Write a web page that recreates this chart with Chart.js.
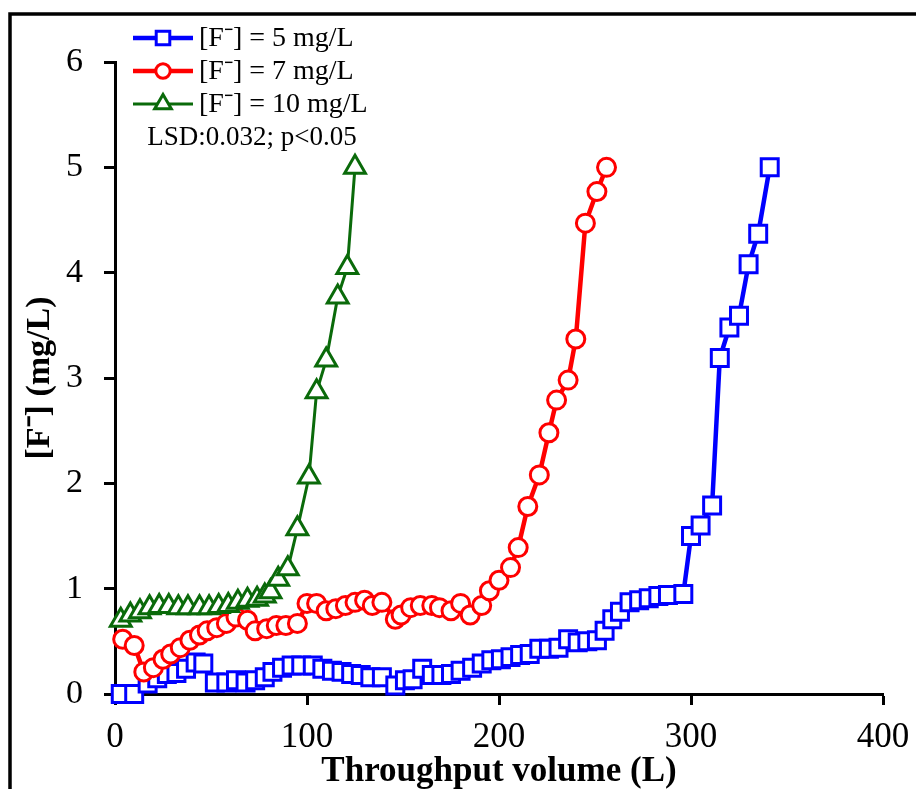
<!DOCTYPE html>
<html>
<head>
<meta charset="utf-8">
<script src="https://cdn.jsdelivr.net/npm/chart.js@4.4.0/dist/chart.umd.min.js"></script>
<style>
  html, body { margin: 0; padding: 0; background: #fff; }
  #wrap { width: 916px; height: 789px; }
</style>
</head>
<body>
<div id="wrap"><canvas id="myChart" width="916" height="789"></canvas></div>
<script>
// breakthrough readings: throughput volume (L) vs effluent fluoride (mg/L)
const volume5 = [3, 10, 17, 22, 27, 32, 37, 42, 46, 52, 58, 63, 68, 73, 78, 82, 87, 92, 97, 103,
  108, 113, 118, 123, 128, 133, 139, 146, 151, 155, 160, 165, 170, 175, 180, 186, 191, 196, 201, 206,
  211, 216, 221, 226, 231, 236, 241, 246, 251, 255, 259, 263, 268, 273, 278, 283, 288, 296, 300, 305,
  311, 315, 320, 325, 330, 335, 341];
const fluoride5 = [0.0, 0.0, 0.1, 0.15, 0.19, 0.2, 0.24, 0.3, 0.29, 0.11, 0.11, 0.13, 0.11, 0.13, 0.16, 0.21, 0.25, 0.27, 0.27, 0.27,
  0.24, 0.22, 0.21, 0.19, 0.18, 0.16, 0.16, 0.08, 0.13, 0.14, 0.24, 0.18, 0.18, 0.19, 0.22, 0.25, 0.29, 0.32, 0.33, 0.35,
  0.37, 0.38, 0.43, 0.43, 0.44, 0.52, 0.49, 0.5, 0.51, 0.6, 0.71, 0.78, 0.87, 0.89, 0.91, 0.93, 0.94, 0.95, 1.5, 1.6,
  1.79, 3.19, 3.48, 3.59, 4.08, 4.37, 5.0];

const volume7 = [4, 10, 15, 20, 25, 29, 34, 39, 44, 48, 53, 58, 63, 69, 73, 79, 84, 89, 95, 100,
  105, 110, 115, 120, 125, 130, 134, 139, 146, 149, 154, 159, 165, 169, 175, 180, 185, 191, 195, 200,
  206, 210, 215, 221, 226, 230, 236, 240, 245, 251, 256];
const fluoride7 = [0.52, 0.46, 0.21, 0.25, 0.33, 0.38, 0.44, 0.51, 0.56, 0.6, 0.63, 0.67, 0.73, 0.7, 0.6, 0.62, 0.65, 0.65, 0.67, 0.86,
  0.86, 0.79, 0.81, 0.84, 0.87, 0.89, 0.84, 0.87, 0.71, 0.75, 0.82, 0.84, 0.84, 0.82, 0.79, 0.86, 0.75, 0.84, 0.98, 1.08,
  1.2, 1.39, 1.78, 2.08, 2.48, 2.79, 2.98, 3.37, 4.47, 4.77, 5.0];

const volume10 = [3, 8, 13, 18, 23, 28, 33, 38, 44, 49, 54, 59, 64, 69, 74, 78, 81, 85, 90, 95,
  101, 105, 110, 116, 121, 125];
const fluoride10 = [0.70, 0.75, 0.78, 0.82, 0.83, 0.83, 0.82, 0.82, 0.82, 0.82, 0.83, 0.84, 0.87, 0.89, 0.9, 0.93, 0.97, 1.09, 1.19, 1.57,
  2.06, 2.87, 3.17, 3.77, 4.05, 5.0];

const seriesLabels = ["[F\u207B] = 5 mg/L", "[F\u207B] = 7 mg/L", "[F\u207B] = 10 mg/L"];
const xTicks = [0, 100, 200, 300, 400];
const yTicks = [0, 1, 2, 3, 4, 5, 6];
const statNote = "LSD:0.032; p<0.05";

const serif = "'Liberation Serif', 'Times New Roman', serif";
const toPoints = (xs, ys) => xs.map((x, i) => ({ x, y: ys[i] }));

// white page plus the heavy frame along the top and left edge
const framePlugin = {
  id: "frame",
  beforeDraw(chart) {
    const ctx = chart.ctx;
    ctx.save();
    ctx.fillStyle = "#fff";
    ctx.fillRect(0, 0, chart.width, chart.height);
    ctx.restore();
  },
  afterDraw(chart) {
    const ctx = chart.ctx;
    ctx.save();
    ctx.strokeStyle = "#000";
    ctx.lineWidth = 3.5;
    ctx.beginPath();
    ctx.moveTo(10, chart.height);
    ctx.lineTo(10, 14);
    ctx.lineTo(chart.width, 14);
    ctx.stroke();
    ctx.restore();
  },
};

// legend drawn over the top-left of the plot: line sample with marker, then the label
const legendPlugin = {
  id: "sampleLegend",
  afterDraw(chart) {
    const ctx = chart.ctx;
    const rows = [38, 71, 104];
    ctx.save();
    chart.data.datasets.forEach((ds, i) => {
      const y = rows[i];
      ctx.strokeStyle = ds.borderColor;
      ctx.lineWidth = ds.borderWidth;
      ctx.beginPath();
      ctx.moveTo(133, y);
      ctx.lineTo(193, y);
      ctx.stroke();
      ctx.fillStyle = "#fff";
      ctx.strokeStyle = ds.pointBorderColor;
      ctx.lineWidth = ds.pointBorderWidth;
      Chart.helpers.drawPoint(ctx, {
        pointStyle: ds.pointStyle,
        radius: ds.pointRadius * 0.8,
        borderWidth: ds.pointBorderWidth,
        rotation: 0,
      }, 163, y);
      ctx.fillStyle = "#000";
      ctx.font = "28px " + serif;
      ctx.textAlign = "left";
      ctx.textBaseline = "middle";
      ctx.fillText(ds.label, 199, y + 1);
    });
    ctx.font = "27px " + serif;
    ctx.textAlign = "center";
    ctx.fillText(statNote, 252, 138);
    ctx.restore();
  },
};

const makeSeries = (label, data, color, style, radius, width, order) => ({
  label,
  data,
  borderColor: color,
  backgroundColor: "#fff",
  borderWidth: width,
  pointStyle: style,
  pointRadius: radius,
  pointBorderColor: color,
  pointBackgroundColor: "#fff",
  pointBorderWidth: 3,
  tension: 0,
  clip: false,
  order,
});

const ctx = document.getElementById("myChart");
const chart = new Chart(ctx, {
  type: "line",
  data: {
    datasets: [
      makeSeries(seriesLabels[0], toPoints(volume5, fluoride5), "#0000ff", "rect", 12, 4.5, 3),
      makeSeries(seriesLabels[1], toPoints(volume7, fluoride7), "#ff0000", "circle", 9, 4.5, 2),
      makeSeries(seriesLabels[2], toPoints(volume10, fluoride10), "#0a6a0a", "triangle", 12, 3, 1),
    ],
  },
  options: {
    responsive: false,
    animation: false,
    events: [],
    layout: { padding: { left: 0, top: 62, right: 33, bottom: 0 } },
    plugins: {
      legend: { display: false },
      tooltip: { enabled: false },
    },
    scales: {
      x: {
        type: "linear",
        min: 0,
        max: 400,
        afterBuildTicks: (s) => { s.ticks = xTicks.map((v) => ({ value: v })); },
        afterFit: (s) => {
          s.height = 95;
          s.paddingLeft = 0;
          s.paddingRight = 0;
        },
        grid: { drawOnChartArea: false, drawTicks: true, tickLength: 11, tickWidth: 3, tickColor: "#000" },
        border: { display: true, color: "#000", width: 3 },
        ticks: { color: "#000", font: { family: serif, size: 35 }, padding: 12, maxRotation: 0 },
        title: {
          display: true,
          text: "Throughput volume (L)",
          color: "#000",
          font: { family: serif, size: 35, weight: "bold", lineHeight: 1 },
          padding: { top: 0, bottom: 0 },
        },
      },
      y: {
        type: "linear",
        min: 0,
        max: 6,
        afterBuildTicks: (s) => { s.ticks = yTicks.map((v) => ({ value: v })); },
        afterFit: (s) => {
          s.width = 115;
          s.paddingTop = 0;
          s.paddingBottom = 0;
        },
        grid: { drawOnChartArea: false, drawTicks: true, tickLength: 11, tickWidth: 3, tickColor: "#000" },
        border: { display: true, color: "#000", width: 3 },
        ticks: { color: "#000", font: { family: serif, size: 34 }, padding: 21 },
        title: {
          display: true,
          text: "[F\u207B] (mg/L)",
          color: "#000",
          font: { family: serif, size: 34, weight: "bold", lineHeight: 1.2 },
          padding: { top: 20, bottom: 0 },
        },
      },
    },
  },
  plugins: [framePlugin, legendPlugin],
});
</script>
</body>
</html>
